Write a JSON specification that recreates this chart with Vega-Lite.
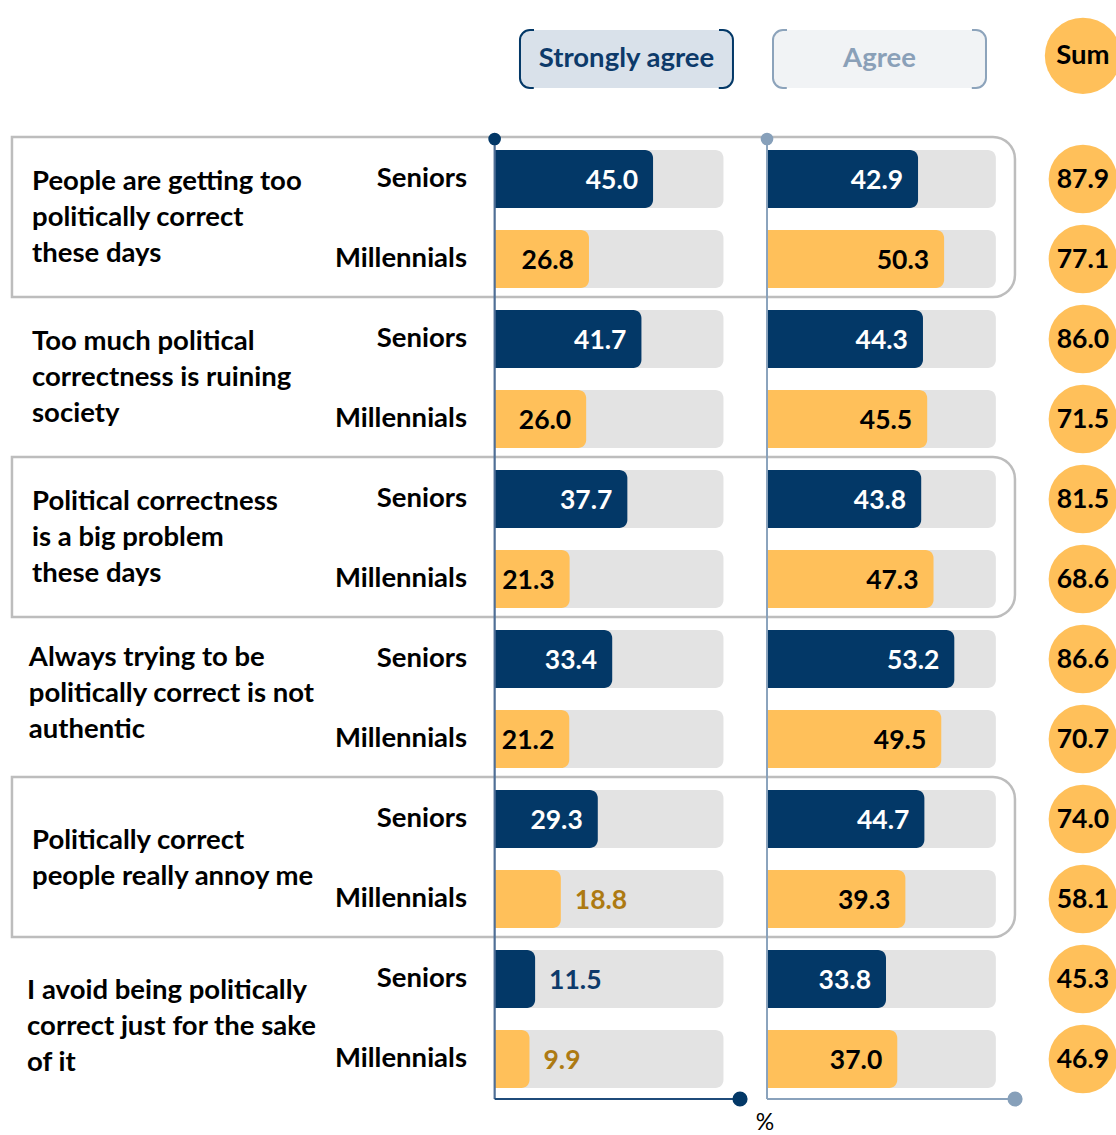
{
  "$schema": "https://vega.github.io/schema/vega-lite/v6.json",
  "width": 1116,
  "height": 1135,
  "autosize": {"type": "none"},
  "padding": 0,
  "background": "white",
  "config": {"view": {"stroke": null}, "axis": {"disable": true}, "font": "Lato"},
  "datasets": {
    "rows": [
      {"statement": "People are getting too politically correct these days", "group": "Seniors", "strongly": 45.0, "agree": 42.9, "sum": 87.9},
      {"statement": "People are getting too politically correct these days", "group": "Millennials", "strongly": 26.8, "agree": 50.3, "sum": 77.1},
      {"statement": "Too much political correctness is ruining society", "group": "Seniors", "strongly": 41.7, "agree": 44.3, "sum": 86.0},
      {"statement": "Too much political correctness is ruining society", "group": "Millennials", "strongly": 26.0, "agree": 45.5, "sum": 71.5},
      {"statement": "Political correctness is a big problem these days", "group": "Seniors", "strongly": 37.7, "agree": 43.8, "sum": 81.5},
      {"statement": "Political correctness is a big problem these days", "group": "Millennials", "strongly": 21.3, "agree": 47.3, "sum": 68.6},
      {"statement": "Always trying to be politically correct is not authentic", "group": "Seniors", "strongly": 33.4, "agree": 53.2, "sum": 86.6},
      {"statement": "Always trying to be politically correct is not authentic", "group": "Millennials", "strongly": 21.2, "agree": 49.5, "sum": 70.7},
      {"statement": "Politically correct people really annoy me", "group": "Seniors", "strongly": 29.3, "agree": 44.7, "sum": 74.0},
      {"statement": "Politically correct people really annoy me", "group": "Millennials", "strongly": 18.8, "agree": 39.3, "sum": 58.1},
      {"statement": "I avoid being politically correct just for the sake of it", "group": "Seniors", "strongly": 11.5, "agree": 33.8, "sum": 45.3},
      {"statement": "I avoid being politically correct just for the sake of it", "group": "Millennials", "strongly": 9.9, "agree": 37.0, "sum": 46.9}
    ],
    "statements": [
      {"statement": "People are getting too politically correct these days", "label": "People are getting too\npolitically correct\nthese days"},
      {"statement": "Too much political correctness is ruining society", "label": "Too much political\ncorrectness is ruining\nsociety"},
      {"statement": "Political correctness is a big problem these days", "label": "Political correctness\nis a big problem\nthese days"},
      {"statement": "Always trying to be politically correct is not authentic", "label": "Always trying to be\npolitically correct is not\nauthentic"},
      {"statement": "Politically correct people really annoy me", "label": "Politically correct\npeople really annoy me"},
      {"statement": "I avoid being politically correct just for the sake of it", "label": "I avoid being politically\ncorrect just for the sake\nof it"}
    ]
  },
  "layer": [
    {
      "layer": [
        {
          "data": {"name": "statements"},
          "transform": [{"filter": {"field": "statement", "oneOf": ["People are getting too politically correct these days", "Political correctness is a big problem these days", "Politically correct people really annoy me"]}}],
          "mark": {"type": "rect", "fill": "white", "fillOpacity": 0, "stroke": "#bdbdbd", "strokeWidth": 2.5, "yOffset": -2, "cornerRadiusTopRight": 22, "cornerRadiusBottomRight": 22},
          "encoding": {
            "x": {"datum": -137.1, "type": "quantitative", "scale": {"domain": [-140.5, 176.5], "nice": false, "zero": false}},
            "x2": {"datum": 147.8},
            "y": {"field": "statement", "type": "nominal", "scale": {"type": "band", "domain": ["hdr", "People are getting too politically correct these days", "Too much political correctness is ruining society", "Political correctness is a big problem these days", "Always trying to be politically correct is not authentic", "Politically correct people really annoy me", "I avoid being politically correct just for the sake of it", "ftr"], "range": [-21, 1259], "paddingInner": 0, "paddingOuter": 0}}
          }
        },
        {
          "data": {"name": "rows"},
          "mark": {"type": "bar", "color": "#e3e3e3", "cornerRadius": 8},
          "encoding": {
            "x": {"datum": 0, "type": "quantitative"},
            "x2": {"datum": 65},
            "y": {"field": "statement", "type": "nominal"},
            "yOffset": {"field": "group", "type": "nominal", "scale": {"domain": ["Seniors", "Millennials"], "paddingInner": 0.275, "paddingOuter": 0.1375}}
          }
        },
        {
          "data": {"name": "rows"},
          "mark": {"type": "bar", "cornerRadiusTopRight": 8, "cornerRadiusBottomRight": 8},
          "encoding": {
            "x": {"field": "strongly", "type": "quantitative"},
            "x2": {"datum": 0},
            "y": {"field": "statement", "type": "nominal"},
            "yOffset": {"field": "group", "type": "nominal"},
            "color": {"condition": {"test": "datum.group === 'Seniors'", "value": "#033867"}, "value": "#ffc05a"}
          }
        },
        {
          "data": {"name": "rows"},
          "transform": [{"filter": "datum.strongly >= 20"}],
          "mark": {"type": "text", "align": "right", "baseline": "middle", "dx": -15, "dy": 2, "fontSize": 26.5, "fontWeight": "bold"},
          "encoding": {
            "x": {"field": "strongly", "type": "quantitative"},
            "y": {"field": "statement", "type": "nominal"},
            "yOffset": {"field": "group", "type": "nominal"},
            "text": {"field": "strongly", "type": "quantitative", "format": ".1f"},
            "color": {"condition": {"test": "datum.group === 'Seniors'", "value": "white"}, "value": "black"}
          }
        },
        {
          "data": {"name": "rows"},
          "transform": [{"filter": "datum.strongly < 20"}],
          "mark": {"type": "text", "align": "left", "baseline": "middle", "dx": 14, "dy": 2, "fontSize": 26.5, "fontWeight": "bold"},
          "encoding": {
            "x": {"field": "strongly", "type": "quantitative"},
            "y": {"field": "statement", "type": "nominal"},
            "yOffset": {"field": "group", "type": "nominal"},
            "text": {"field": "strongly", "type": "quantitative", "format": ".1f"},
            "color": {"condition": {"test": "datum.group === 'Seniors'", "value": "#0d3a6a"}, "value": "#ad7a12"}
          }
        },
        {
          "data": {"name": "statements"},
          "transform": [{"filter": {"field": "statement", "oneOf": ["People are getting too politically correct these days", "Too much political correctness is ruining society", "Political correctness is a big problem these days"]}}],
          "mark": {"type": "text", "align": "left", "baseline": "middle", "lineBreak": "\n", "lineHeight": 36, "dy": -37, "fontSize": 27.5, "fontWeight": "bold", "color": "black"},
          "encoding": {
            "x": {"datum": -131.4, "type": "quantitative"},
            "y": {"field": "statement", "type": "nominal"},
            "text": {"field": "label"}
          }
        },
        {
          "data": {"name": "statements"},
          "transform": [{"filter": {"field": "statement", "equal": "Always trying to be politically correct is not authentic"}}],
          "mark": {"type": "text", "align": "left", "baseline": "middle", "lineBreak": "\n", "lineHeight": 36, "dy": -41, "fontSize": 27.5, "fontWeight": "bold", "color": "black"},
          "encoding": {
            "x": {"datum": -132.3, "type": "quantitative"},
            "y": {"field": "statement", "type": "nominal"},
            "text": {"field": "label"}
          }
        },
        {
          "data": {"name": "statements"},
          "transform": [{"filter": {"field": "statement", "equal": "Politically correct people really annoy me"}}],
          "mark": {"type": "text", "align": "left", "baseline": "middle", "lineBreak": "\n", "lineHeight": 36, "dy": -18, "fontSize": 27.5, "fontWeight": "bold", "color": "black"},
          "encoding": {
            "x": {"datum": -131.4, "type": "quantitative"},
            "y": {"field": "statement", "type": "nominal"},
            "text": {"field": "label"}
          }
        },
        {
          "data": {"name": "statements"},
          "transform": [{"filter": {"field": "statement", "equal": "I avoid being politically correct just for the sake of it"}}],
          "mark": {"type": "text", "align": "left", "baseline": "middle", "lineBreak": "\n", "lineHeight": 36, "dy": -28, "fontSize": 27.5, "fontWeight": "bold", "color": "black"},
          "encoding": {
            "x": {"datum": -132.8, "type": "quantitative"},
            "y": {"field": "statement", "type": "nominal"},
            "text": {"field": "label"}
          }
        },
        {
          "data": {"name": "rows"},
          "mark": {"type": "text", "align": "right", "baseline": "middle", "fontSize": 27.5, "fontWeight": "bold", "color": "black"},
          "encoding": {
            "x": {"datum": -7.85, "type": "quantitative"},
            "y": {"field": "statement", "type": "nominal"},
            "yOffset": {"field": "group", "type": "nominal"},
            "text": {"field": "group"}
          }
        },
        {
          "data": {"name": "rows"},
          "mark": {"type": "point", "shape": "circle", "filled": true, "opacity": 1, "size": 4700, "color": "#ffc05a"},
          "encoding": {
            "x": {"datum": 167.1, "type": "quantitative"},
            "y": {"field": "statement", "type": "nominal"},
            "yOffset": {"field": "group", "type": "nominal"}
          }
        },
        {
          "data": {"name": "rows"},
          "mark": {"type": "text", "align": "center", "baseline": "middle", "dy": 1, "fontSize": 26.5, "fontWeight": "bold", "color": "black"},
          "encoding": {
            "x": {"datum": 167.1, "type": "quantitative"},
            "y": {"field": "statement", "type": "nominal"},
            "yOffset": {"field": "group", "type": "nominal"},
            "text": {"field": "sum", "type": "quantitative", "format": ".1f"}
          }
        },
        {
          "data": {"values": [{"header": "Strongly agree"}]},
          "mark": {"type": "rect", "height": 58, "fill": "#d9e1ea", "cornerRadius": 10},
          "encoding": {
            "x": {"datum": 7.2, "type": "quantitative"},
            "x2": {"datum": 67.7},
            "y": {"datum": "hdr", "type": "nominal"}
          }
        },
        {
          "data": {"values": [{"header": "Strongly agree"}]},
          "mark": {"type": "rect", "height": 58, "fillOpacity": 0, "fill": "white", "stroke": "#033867", "strokeWidth": 2, "cornerRadius": 10, "strokeDash": [4, 185, 77.4, 185, 73.4]},
          "encoding": {
            "x": {"datum": 7.2, "type": "quantitative"},
            "x2": {"datum": 67.7},
            "y": {"datum": "hdr", "type": "nominal"}
          }
        },
        {
          "data": {"values": [{"header": "Strongly agree"}]},
          "mark": {"type": "text", "align": "center", "baseline": "middle", "fontSize": 27.5, "fontWeight": "bold", "color": "#0d3a6a"},
          "encoding": {
            "x": {"datum": 37.45, "type": "quantitative"},
            "y": {"datum": "hdr", "type": "nominal"},
            "text": {"field": "header"}
          }
        },
        {
          "data": {"values": [{"header": "Sum"}]},
          "mark": {"type": "point", "shape": "circle", "filled": true, "opacity": 1, "size": 5800, "color": "#ffc05a"},
          "encoding": {
            "x": {"datum": 167.1, "type": "quantitative"},
            "y": {"datum": "hdr", "type": "nominal", "bandPosition": 0.48}
          }
        },
        {
          "data": {"values": [{"header": "Sum"}]},
          "mark": {"type": "text", "align": "center", "baseline": "middle", "fontSize": 27.5, "fontWeight": "bold", "color": "black"},
          "encoding": {
            "x": {"datum": 167.1, "type": "quantitative"},
            "y": {"datum": "hdr", "type": "nominal", "bandPosition": 0.48},
            "text": {"field": "header"}
          }
        },
        {
          "data": {"name": "rows"},
          "mark": {"type": "bar", "color": "#4f6f96"},
          "encoding": {
            "x": {"datum": -0.25, "type": "quantitative"},
            "x2": {"datum": 0.25},
            "y": {"field": "statement", "type": "nominal"}
          }
        },
        {
          "data": {"values": [{"line": "bottom"}]},
          "mark": {"type": "rule", "color": "#1f4b7a", "strokeWidth": 2},
          "encoding": {
            "x": {"datum": 0, "type": "quantitative"},
            "x2": {"datum": 69.7},
            "y": {"datum": "ftr", "type": "nominal", "bandPosition": 0}
          }
        },
        {
          "data": {"values": [{"dot": "top"}]},
          "mark": {"type": "point", "shape": "circle", "filled": true, "opacity": 1, "size": 160, "color": "#033867"},
          "encoding": {
            "x": {"datum": 0, "type": "quantitative"},
            "y": {"datum": "People are getting too politically correct these days", "type": "nominal", "bandPosition": 0}
          }
        },
        {
          "data": {"values": [{"dot": "bottom"}]},
          "mark": {"type": "point", "shape": "circle", "filled": true, "opacity": 1, "size": 230, "color": "#033867"},
          "encoding": {
            "x": {"datum": 69.7, "type": "quantitative"},
            "y": {"datum": "ftr", "type": "nominal", "bandPosition": 0}
          }
        },
        {
          "data": {"values": [{"unit": "%"}]},
          "mark": {"type": "text", "align": "center", "baseline": "middle", "fontSize": 23, "color": "black"},
          "encoding": {
            "x": {"datum": 76.8, "type": "quantitative"},
            "y": {"datum": "ftr", "type": "nominal", "bandPosition": 0.15},
            "text": {"field": "unit"}
          }
        }
      ]
    },
    {
      "layer": [
        {
          "data": {"name": "rows"},
          "mark": {"type": "bar", "color": "#e3e3e3", "cornerRadius": 8},
          "encoding": {
            "x": {"datum": 0, "type": "quantitative", "scale": {"domain": [-217.87, 99.13], "nice": false, "zero": false}},
            "x2": {"datum": 65},
            "y": {"field": "statement", "type": "nominal"},
            "yOffset": {"field": "group", "type": "nominal"}
          }
        },
        {
          "data": {"name": "rows"},
          "mark": {"type": "bar", "cornerRadiusTopRight": 8, "cornerRadiusBottomRight": 8},
          "encoding": {
            "x": {"field": "agree", "type": "quantitative"},
            "x2": {"datum": 0},
            "y": {"field": "statement", "type": "nominal"},
            "yOffset": {"field": "group", "type": "nominal"},
            "color": {"condition": {"test": "datum.group === 'Seniors'", "value": "#033867"}, "value": "#ffc05a"}
          }
        },
        {
          "data": {"name": "rows"},
          "mark": {"type": "text", "align": "right", "baseline": "middle", "dx": -15, "dy": 2, "fontSize": 26.5, "fontWeight": "bold"},
          "encoding": {
            "x": {"field": "agree", "type": "quantitative"},
            "y": {"field": "statement", "type": "nominal"},
            "yOffset": {"field": "group", "type": "nominal"},
            "text": {"field": "agree", "type": "quantitative", "format": ".1f"},
            "color": {"condition": {"test": "datum.group === 'Seniors'", "value": "white"}, "value": "black"}
          }
        },
        {
          "data": {"values": [{"header": "Agree"}]},
          "mark": {"type": "rect", "height": 58, "fill": "#f1f3f5", "cornerRadius": 10},
          "encoding": {
            "x": {"datum": 1.7, "type": "quantitative"},
            "x2": {"datum": 62.2},
            "y": {"datum": "hdr", "type": "nominal"}
          }
        },
        {
          "data": {"values": [{"header": "Agree"}]},
          "mark": {"type": "rect", "height": 58, "fillOpacity": 0, "fill": "white", "stroke": "#8ca3bb", "strokeWidth": 2, "cornerRadius": 10, "strokeDash": [4, 185, 77.4, 185, 73.4]},
          "encoding": {
            "x": {"datum": 1.7, "type": "quantitative"},
            "x2": {"datum": 62.2},
            "y": {"datum": "hdr", "type": "nominal"}
          }
        },
        {
          "data": {"values": [{"header": "Agree"}]},
          "mark": {"type": "text", "align": "center", "baseline": "middle", "fontSize": 27.5, "fontWeight": "bold", "color": "#8aa0b8"},
          "encoding": {
            "x": {"datum": 31.95, "type": "quantitative"},
            "y": {"datum": "hdr", "type": "nominal"},
            "text": {"field": "header"}
          }
        },
        {
          "data": {"name": "rows"},
          "mark": {"type": "bar", "color": "#8aa2bc"},
          "encoding": {
            "x": {"datum": -0.25, "type": "quantitative"},
            "x2": {"datum": 0.25},
            "y": {"field": "statement", "type": "nominal"}
          }
        },
        {
          "data": {"values": [{"line": "bottom"}]},
          "mark": {"type": "rule", "color": "#8aa2bc", "strokeWidth": 2},
          "encoding": {
            "x": {"datum": 0, "type": "quantitative"},
            "x2": {"datum": 70.45},
            "y": {"datum": "ftr", "type": "nominal", "bandPosition": 0}
          }
        },
        {
          "data": {"values": [{"dot": "top"}]},
          "mark": {"type": "point", "shape": "circle", "filled": true, "opacity": 1, "size": 160, "color": "#87a0ba"},
          "encoding": {
            "x": {"datum": 0, "type": "quantitative"},
            "y": {"datum": "People are getting too politically correct these days", "type": "nominal", "bandPosition": 0}
          }
        },
        {
          "data": {"values": [{"dot": "bottom"}]},
          "mark": {"type": "point", "shape": "circle", "filled": true, "opacity": 1, "size": 230, "color": "#87a0ba"},
          "encoding": {
            "x": {"datum": 70.45, "type": "quantitative"},
            "y": {"datum": "ftr", "type": "nominal", "bandPosition": 0}
          }
        }
      ]
    }
  ],
  "resolve": {"scale": {"x": "independent"}}
}
